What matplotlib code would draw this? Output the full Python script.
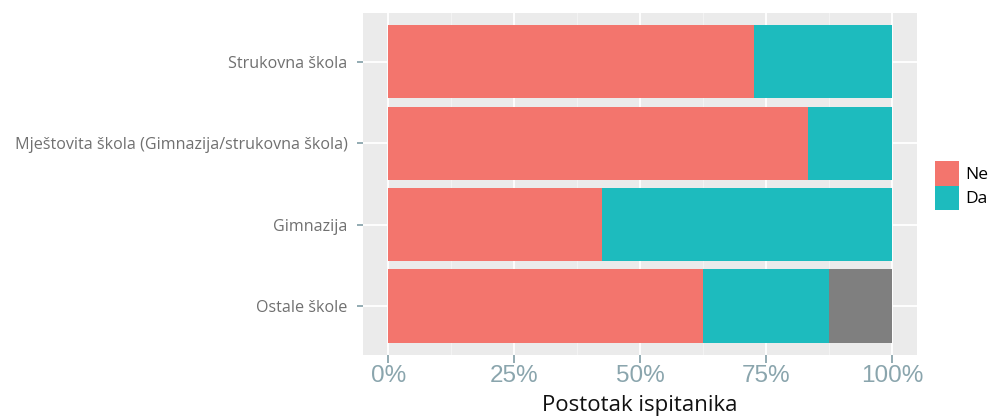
import matplotlib
matplotlib.use("Agg")
import matplotlib.pyplot as plt
from matplotlib.patches import Patch
import numpy as np

categories = ["Strukovna škola", "Mještovita škola (Gimnazija/strukovna škola)", "Gimnazija", "Ostale škole"]
ne_vals = [0.727, 0.833, 0.425, 0.625]
da_vals = [0.273, 0.167, 0.575, 0.250]
na_vals = [0.0, 0.0, 0.0, 0.125]
x_ticks = [0, 0.25, 0.5, 0.75, 1.0]
x_tick_labels = ["0%", "25%", "50%", "75%", "100%"]
legend_labels = ["Ne", "Da"]

col_ne = "#F3756D"
col_da = "#1DBBBE"
col_na = "#7F7F7F"

fig = plt.figure(figsize=(9.95, 4.16), dpi=100)
ax = fig.add_axes([363/995, 1 - 355/416, (917 - 363)/995, (355 - 13)/416])
ax.set_facecolor("#EBEBEB")

n = len(categories)
ypos = np.arange(n)[::-1] + 1
ne = np.array(ne_vals); da = np.array(da_vals); na = np.array(na_vals)
ax.barh(ypos, ne, height=0.9, color=col_ne, zorder=3)
ax.barh(ypos, da, left=ne, height=0.9, color=col_da, zorder=3)
ax.barh(ypos, na, left=ne + da, height=0.9, color=col_na, zorder=3)

ax.set_xlim(-0.05, 1.05)
ax.set_ylim(0.4, n + 0.6)
ax.set_xticks(x_ticks)
ax.set_xticklabels(x_tick_labels)
ax.set_xticks([0.125, 0.375, 0.625, 0.875], minor=True)
ax.set_yticks(ypos)
ax.set_yticklabels(categories)

ax.grid(True, which="major", color="white", linewidth=1.3, zorder=0)
ax.grid(True, which="minor", axis="x", color="#F4F4F4", linewidth=0.7, zorder=0)
for s in ax.spines.values():
    s.set_visible(False)

ax.tick_params(axis="x", which="major", length=6, width=1.3, color="#8AA5AD",
               labelsize=17.5, labelcolor="#8AA5AD", pad=1)
ax.tick_params(axis="x", which="minor", length=0)
ax.tick_params(axis="y", length=4, width=1.3, color="#8AA5AD",
               labelsize=11.6, labelcolor="#707070", pad=7)
for lab in ax.get_yticklabels():
    lab.set_family("Open Sans")
for lab in ax.get_xticklabels():
    lab.set_family("Liberation Sans")

fig.text(640/995, 1 - 405/416, "Postotak ispitanika", fontsize=16, family="Open Sans",
         color="#111111", ha="center", va="center")

handles = [Patch(facecolor=col_ne, edgecolor="none"), Patch(facecolor=col_da, edgecolor="none")]
fig.legend(handles, legend_labels, loc="upper left", bbox_to_anchor=(935/995, 1 - 161/416),
           frameon=False, handlelength=1.4, handleheight=1.8, handletextpad=0.35,
           labelspacing=0.0, borderpad=0.0, borderaxespad=0.0,
           prop={"family": "Open Sans", "size": 12.5})

fig.savefig("out.png", dpi=100)
